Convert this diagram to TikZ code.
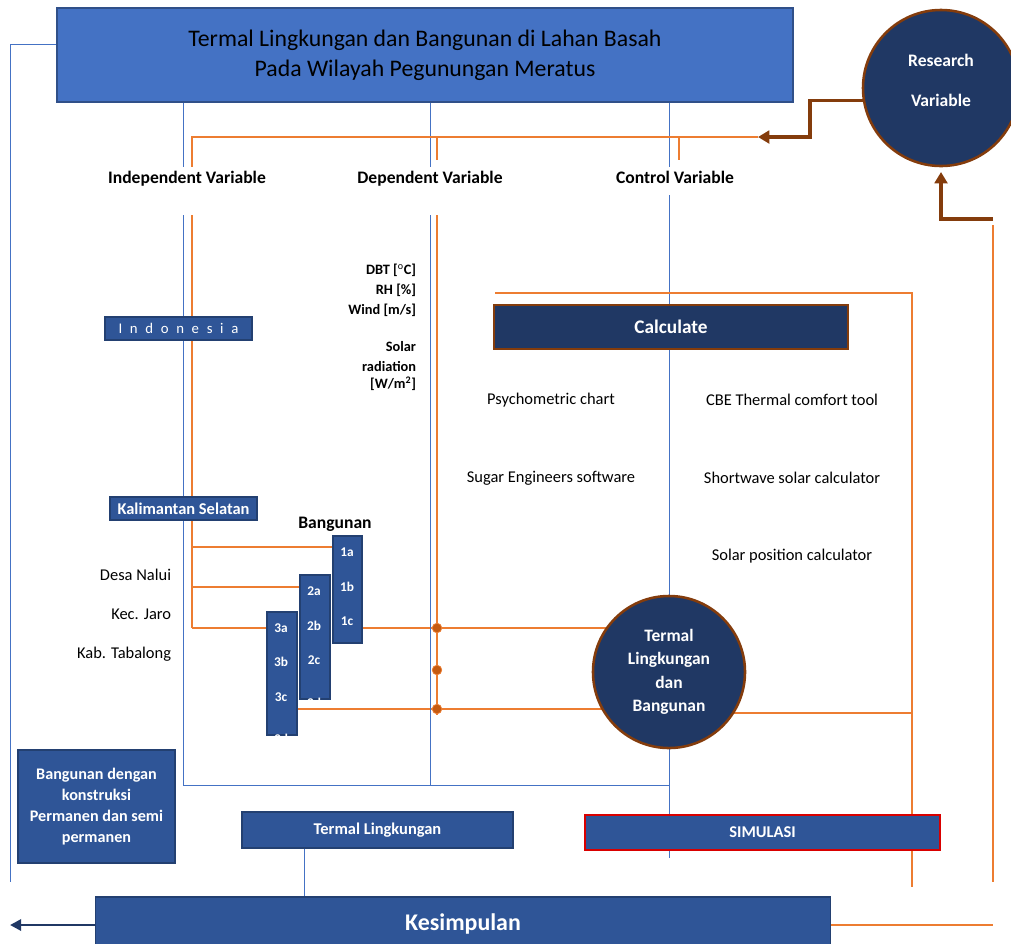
\documentclass[tikz,border=0pt]{standalone}
\usepackage{fontspec}
\setmainfont{Carlito}
\usetikzlibrary{positioning,arrows.meta,backgrounds}

\definecolor{titleblue}{HTML}{4472C4}
\definecolor{boxblue}{HTML}{2F5597}
\definecolor{navy}{HTML}{203864}
\definecolor{rust}{HTML}{843C0C}
\definecolor{lineorange}{HTML}{ED7D31}
\definecolor{dotorange}{HTML}{C55A11}
\definecolor{lineblue}{HTML}{4472C4}

\tikzset{
  blueline/.style={draw=lineblue, line width=0.7pt},
  orangeline/.style={draw=lineorange, line width=0.8pt},
  rustarrow/.style={draw=rust, line width=2.2pt, -{Triangle[length=8pt,width=9pt]}},
  navyarrow/.style={draw=navy, line width=2pt, -{Triangle[length=8pt,width=8pt]}},
  darkbox/.style={fill=boxblue, draw=boxblue!75!black, line width=0.8pt, text=white, inner sep=0pt, align=center},
  navybox/.style={fill=navy, draw=rust, line width=1.8pt, text=white, inner sep=0pt, align=center},
  header/.style={font=\fontsize{12.5}{14}\selectfont\bfseries, anchor=base},
  plain/.style={font=\fontsize{11.7}{13}\selectfont},
  smalllbl/.style={font=\fontsize{10.2}{11}\selectfont\bfseries, anchor=east},
  bldg/.style={text=white, font=\fontsize{9.5}{10}\selectfont\bfseries},
  orangedot/.style={circle, fill=dotorange, draw=lineorange, line width=0.5pt, minimum size=0.24cm, inner sep=0pt}
}

\begin{document}
\begin{tikzpicture}[x=0.025cm, y=-0.025cm]
    \useasboundingbox (0,0) rectangle (1011,943);

    % column positions
    \coordinate (colA) at (183,167);
    \coordinate (colB) at (430,167);
    \coordinate (colC) at (669,167);
    \coordinate (oA) at (192,167);
    \coordinate (oB) at (437,160);
    \coordinate (oC) at (679,160);
    \coordinate (lefttop) at (10,44);
    \coordinate (leftbot) at (10,882);
    \coordinate (rbend) at (810,137);
    \coordinate (rtip) at (758,137);
    \coordinate (rstart) at (993,219);
    \coordinate (rtip2) at (941,172);
    \coordinate (rightbot) at (993,882);
    \coordinate (kend) at (10,925);

    % main blocks
    \node[fill=titleblue, draw=titleblue!70!black, line width=1pt, minimum width=18.4cm, minimum height=2.35cm, align=center,
          font=\fontsize{16.9}{21.5}\selectfont] (title) at (425,55)
          {Termal Lingkungan dan Bangunan di Lahan Basah\\Pada Wilayah Pegunungan Meratus};

    % blue skeleton
    \draw[blueline] (title.west |- lefttop) -- (lefttop) -- (leftbot);
    \draw[blueline] (title.south -| colA) -- (colA);
    \draw[blueline] (title.south -| colB) -- (colB);
    \draw[blueline] (title.south -| colC) -- (colC);
    \draw[blueline] (183,215) -- (183,785) -- (669,785);
    \draw[blueline] (430,215) -- (430,785);
    \draw[blueline] (669,195) -- (669,858);

    % orange skeleton
    \draw[orangeline, line width=1pt] (rtip) -- (192,137) -- (oA);
    \draw[orangeline, line width=1pt] (437,137) -- (oB);
    \draw[orangeline, line width=1pt] (679,137) -- (oC);
    \draw[orangeline] (192,215) -- (192,628);
    \draw[orangeline, line width=1.1pt] (437,215) -- (437,715);
    \draw[orangeline] (495,293) -- (912,293) -- (912,887);
    \draw[orangeline] (rstart |- 0,225) -- (rightbot);

    % headers
    \node[header] (indep) at (187,183) {Independent Variable};
    \node[header] (dep) at (430,183) {Dependent Variable};
    \node[header] (ctrl) at (675,183) {Control Variable};

    % research variable
    \node[navybox, circle, minimum size=3.9cm] (rv) at (941,88) {};
    \node[text=white, align=center, font=\fontsize{12.5}{28.5}\selectfont\bfseries] (rvtext) at (941,80) {Research\\Variable};
    \draw[rustarrow] (rv.189) -| (rbend) -- (rtip);
    \draw[rustarrow] (rstart) -| (rtip2);

    % climate data
    \node[smalllbl] (dbt) at (421,270) {DBT [$^{\mathrm{o}}$C]};
    \node[smalllbl] (rh) at (421,290) {RH [\%]};
    \node[smalllbl] (wind) at (421,310) {Wind [m/s]};
    \node[smalllbl] (sol1) at (421,347) {Solar};
    \node[smalllbl] (sol2) at (421,366) {radiation};
    \node[smalllbl] (sol3) at (421,384) {[W/m\textsuperscript{2}]};

    % calculate and tools
    \node[navybox, minimum width=8.85cm, minimum height=1.1cm, font=\fontsize{13.7}{15}\selectfont\bfseries] (calc) at (671,327) {Calculate};
    \node[plain] (psy) at (551,400) {Psychometric chart};
    \node[plain] (cbe) at (792,400) {CBE Thermal comfort tool};
    \node[plain] (sugar) at (551,478) {Sugar Engineers software};
    \node[plain] (swave) at (792,478) {Shortwave solar calculator};
    \node[plain] (spos) at (792,556) {Solar position calculator};

    % location
    \node[darkbox, minimum width=3.675cm, minimum height=0.575cm, font=\fontsize{10.5}{12}\selectfont\addfontfeature{LetterSpace=52}] (indo) at (178.5,328.5) {Indonesia};
    \node[darkbox, minimum width=3.675cm, minimum height=0.575cm, font=\fontsize{11.7}{13}\selectfont\bfseries] (kalsel) at (183.5,508.5) {Kalimantan Selatan};
    \node[plain, anchor=east] (desa) at (176,575) {Desa Nalui};
    \node[plain, anchor=east] (kec) at (176,614) {Kec. Jaro};
    \node[plain, anchor=east] (kab) at (176,654) {Kab. Tabalong};

    % buildings
    \node[header] (bang) at (335,528) {Bangunan};
    \node[darkbox, minimum width=0.725cm, minimum height=2.675cm] (box1) at (347.5,589.5) {};
    \node[darkbox, minimum width=0.75cm, minimum height=3.1cm] (box2) at (315,637) {};
    \node[darkbox, minimum width=0.75cm, minimum height=3.075cm] (box3) at (282,673.5) {};
    \node[bldg] (b1a) at (347,552) {1a};
    \node[bldg] (b1b) at (347,587) {1b};
    \node[bldg] (b1c) at (347,621) {1c};
    \node[bldg] (b2a) at (314,591) {2a};
    \node[bldg] (b2b) at (314,626) {2b};
    \node[bldg] (b2c) at (314,660) {2c};
    \node[bldg] (b3a) at (281,628) {3a};
    \node[bldg] (b3b) at (281,662) {3b};
    \node[bldg] (b3c) at (281,697) {3c};
    \begin{scope}
      \clip (box2.north west) rectangle (box2.south east);
      \node[bldg] (b2d) at (314,703) {2d};
    \end{scope}
    \begin{scope}
      \clip (box3.north west) rectangle (box3.south east);
      \node[bldg] (b3d) at (281,739) {3d};
    \end{scope}

    % thermal circle
    \node[navybox, circle, minimum size=3.8cm, font=\fontsize{12.4}{16.6}\selectfont\bfseries] (tlb) at (669,672)
          {Termal\\Lingkungan\\dan\\Bangunan};

    % branches
    \begin{scope}[on background layer]
    \draw[orangeline] (192,547) -- (box1.west |- 0,547);
    \draw[orangeline] (192,587) -- (box2.west |- 0,587);
    \draw[orangeline] (192,628) -- (box3.west |- 0,628);
    \draw[orangeline, line width=1pt] (box1.east |- 0,628) -- (tlb.center |- 0,628);
    \draw[orangeline, line width=1pt] (box3.east |- 0,709) -- (tlb.center |- 0,709);
    \draw[orangeline] (tlb.center |- 0,713) -- (912,713);
    \end{scope}
    \node[orangedot] (d1) at (437,628) {};
    \node[orangedot] (d2) at (437,670) {};
    \node[orangedot] (d3) at (437,709) {};

    % lower blocks
    \node[darkbox, minimum width=3.925cm, minimum height=2.825cm, font=\fontsize{11.5}{15}\selectfont\bfseries] (konst) at (96.5,806.5)
          {Bangunan dengan\\konstruksi\\Permanen dan semi\\permanen};
    \node[darkbox, minimum width=6.775cm, minimum height=0.9cm, font=\fontsize{11.7}{13}\selectfont\bfseries] (tling) at (377.5,830) {Termal Lingkungan};
    \node[darkbox, draw=red!85!black, line width=1.3pt, minimum width=8.875cm, minimum height=0.875cm, font=\fontsize{11.7}{13}\selectfont\bfseries] (sim) at (762.5,832.5) {SIMULASI};
    \node[darkbox, minimum width=18.35cm, minimum height=1.325cm, font=\fontsize{17}{19}\selectfont\bfseries] (kes) at (463,923.5) {Kesimpulan};

    \draw[blueline] (tling.south -| 304,0) -- (kes.north -| 304,0);
    \draw[orangeline] (kes.east |- 0,925) -- (rstart |- 0,925);
    \draw[navyarrow] (kes.west |- 0,925) -- (kend);
\end{tikzpicture}
\end{document}
